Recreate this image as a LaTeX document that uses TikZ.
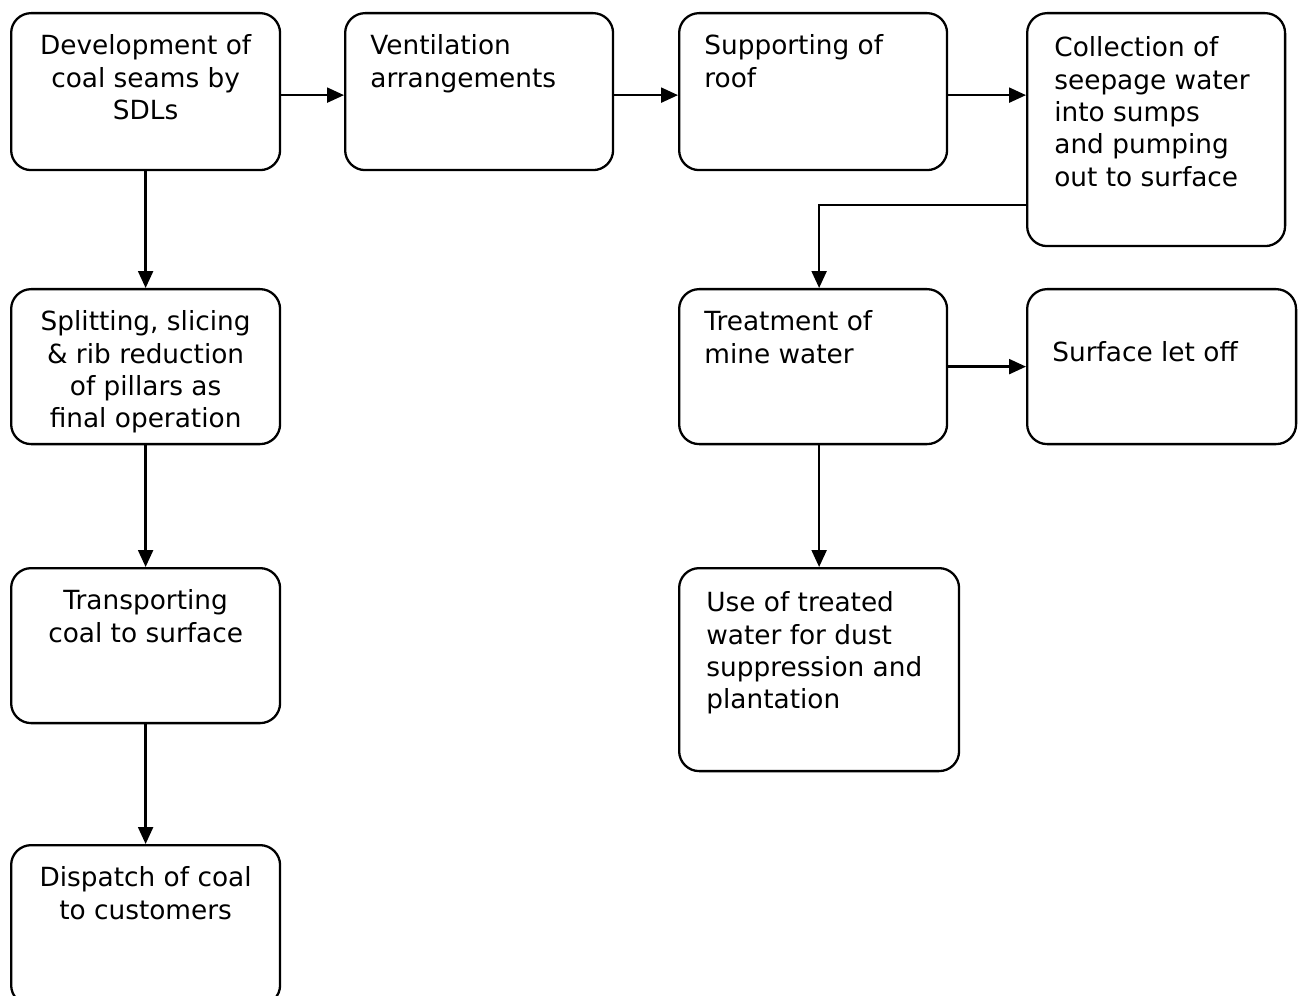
\documentclass[tikz,border=0pt]{standalone}
\usepackage{fontspec}
\setmainfont{DejaVu Sans}
\usetikzlibrary{arrows.meta,positioning}
\tikzset{
  blk/.style 2 args={rectangle,draw=black,line width=1.3pt,minimum width=#1,minimum height=#2,
    rounded corners=0.4cm,anchor=north west,inner sep=0pt},
  ctxt/.style={anchor=north,yshift=-0.45cm,align=center,inner sep=0pt,
    font=\fontsize{15}{18.4}\selectfont},
  ltxt/.style={anchor=north west,xshift=0.52cm,yshift=-0.45cm,align=left,inner sep=0pt,
    font=\fontsize{15}{18.4}\selectfont},
  arr/.style={-{Triangle[length=0.34cm,width=0.3cm]},line width=1.3pt}
}
\begin{document}
\begin{tikzpicture}[x=0.02cm,y=-0.02cm]
    \useasboundingbox (0,0) rectangle (1300,996);
    \clip (0,0) rectangle (1300,996);

    % Coal line
    \node[blk={5.38cm}{3.14cm},label={[ctxt]north:{Development of\\coal seams by\\SDLs}}] (dev) at (10,12) {};
    \node[blk={5.38cm}{3.10cm},label={[ctxt]north:{Splitting, slicing\\\& rib reduction\\of pillars as\\final operation}}] (split) at (10,288) {};
    \node[blk={5.38cm}{3.10cm},label={[ctxt]north:{Transporting\\coal to surface}}] (trans) at (10,567) {};
    \node[blk={5.38cm}{3.20cm},label={[ctxt]north:{Dispatch of coal\\to customers}}] (disp) at (10,844) {};

    % Top row
    \node[blk={5.36cm}{3.14cm},label={[ltxt]north west:{Ventilation\\arrangements}}] (vent) at (344,12) {};
    \node[blk={5.36cm}{3.14cm},label={[ltxt]north west:{Supporting of\\roof}}] (supp) at (678,12) {};
    \node[blk={5.16cm}{4.66cm},label={[ltxt,xshift=0.04cm,yshift=-0.04cm]north west:{Collection of\\seepage water\\into sumps\\and pumping\\out to surface}}] (coll) at (1026,12) {};

    % Mine water
    \node[blk={5.36cm}{3.10cm},label={[ltxt]north west:{Treatment of\\mine water}}] (treat) at (678,288) {};
    \node[blk={5.38cm}{3.10cm},label={[ltxt,yshift=-0.62cm]north west:{Surface let off}}] (surf) at (1026,288) {};
    \node[blk={5.60cm}{4.06cm},label={[ltxt,xshift=0.04cm,yshift=-0.04cm]north west:{Use of treated\\water for dust\\suppression and\\plantation}}] (use) at (678,567) {};

    % Arrows
    \draw[arr] ([yshift=-0.07cm]dev.east) -- ([yshift=-0.07cm]vent.west);
    \draw[arr] ([yshift=-0.07cm]vent.east) -- ([yshift=-0.07cm]supp.west);
    \draw[arr] ([yshift=-0.07cm]supp.east) -- ([yshift=-0.07cm]supp.east -| coll.west);
    \draw[arr] (dev) -- (split);
    \draw[arr] (split) -- (trans);
    \draw[arr] (trans) -- (disp);
    \draw[arr] ([yshift=-1.51cm]coll.west) -| (use.north |- treat.north);
    \draw[arr] (treat) -- (surf);
    \draw[arr] (use.north |- treat.south) -- (use.north);
\end{tikzpicture}
\end{document}
